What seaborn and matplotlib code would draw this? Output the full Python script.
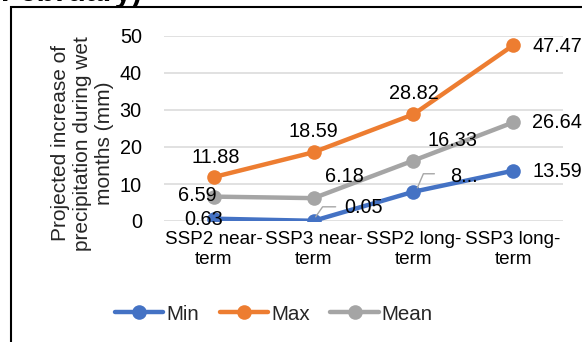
import matplotlib
matplotlib.use("Agg")
import matplotlib.pyplot as plt
from matplotlib.patches import Rectangle
from matplotlib.lines import Line2D
import seaborn as sns
import pandas as pd

# Scenario categories along the x axis
categories = ["SSP2 near-\nterm", "SSP3 near-\nterm", "SSP2 long-\nterm", "SSP3 long-\nterm"]

# Projected increase of precipitation (mm) per scenario
min_values = [0.63, 0.05, 7.9, 13.59]
max_values = [11.88, 18.59, 28.82, 47.47]
mean_values = [6.59, 6.18, 16.33, 26.64]

series_names = ["Min", "Max", "Mean"]
series_colors = ["#4472C4", "#ED7D31", "#A5A5A5"]
y_ticks = [0, 10, 20, 30, 40, 50]

FONT = "Liberation Sans"
FS = 14.3

sns.set_theme(style="white")
plt.rcParams["font.family"] = [FONT, "DejaVu Sans"]

W, H = 582, 342
fig = plt.figure(figsize=(W / 100, H / 100), dpi=100)
ax = fig.add_axes([164 / W, (H - 221) / H, (563 - 164) / W, (221 - 36) / H])

frames = []
for name, vals in zip(series_names, [min_values, max_values, mean_values]):
    frames.append(pd.DataFrame({"x": range(len(categories)), "value": vals, "series": name}))
df = pd.concat(frames, ignore_index=True)

sns.lineplot(
    data=df, x="x", y="value", hue="series", hue_order=series_names,
    palette=series_colors, marker="o", markersize=10.5, markeredgewidth=0,
    linewidth=3.2, sort=False, legend=False, ax=ax, zorder=3,
)

ax.set_xlim(-0.5, len(categories) - 0.5)
ax.set_ylim(0, 50)
ax.set_yticks(y_ticks)
ax.set_xticks(range(len(categories)))
ax.set_xticklabels(categories, fontsize=13.6, linespacing=1.25)
ax.set_yticklabels([str(t) for t in y_ticks], fontsize=FS)
ax.tick_params(axis="both", length=0, colors="black")
ax.tick_params(axis="y", pad=16)
ax.tick_params(axis="x", pad=7)
ax.grid(axis="y", color="#D9D9D9", linewidth=1.1)
ax.grid(axis="x", visible=False)
for sp in ax.spines.values():
    sp.set_visible(False)
ax.set_xlabel("")
ax.set_ylabel("Projected increase of\nprecipitation during wet\nmonths (mm)",
              fontsize=15, linespacing=1.2)
ax.yaxis.set_label_coords(-50 / (563 - 164), 0.42)

# Data labels: (series values, index, text, dx, dy, ha) offsets in pixels
labels = [
    (max_values, 0, "11.88", 2, 20, "center"),
    (max_values, 1, "18.59", 0, 21, "center"),
    (max_values, 2, "28.82", 0, 21, "center"),
    (max_values, 3, "47.47", 19, -1, "left"),
    (mean_values, 0, "6.59", 3, 1, "right"),
    (mean_values, 1, "6.18", 11, 22, "left"),
    (mean_values, 2, "16.33", 14, 20, "left"),
    (mean_values, 3, "26.64", 19, 0, "left"),
    (min_values, 0, "0.63", 9, -1, "right"),
    (min_values, 1, "0.05", 31, 13, "left"),
    (min_values, 2, "8...", 37, 15, "left"),
    (min_values, 3, "13.59", 19, -1, "left"),
]
for vals, i, txt, dx, dy, ha in labels:
    ax.annotate(txt, (i, vals[i]), xytext=(dx, dy), textcoords="offset pixels",
                ha=ha, va="center", fontsize=FS, color="black", zorder=4)

fig.canvas.draw()

# Leader lines for displaced labels (pixel offsets from the point)
leaders = [
    (min_values, 1, [(2, 4), (9, 14), (22, 14)]),
    (min_values, 2, [(4, 4), (10, 18), (21, 18)]),
]
for vals, i, offs in leaders:
    px, py = ax.transData.transform((i, vals[i]))
    xs = [(px + ox) / W for ox, oy in offs]
    ys = [(py + oy) / H for ox, oy in offs]
    fig.add_artist(Line2D(xs, ys, transform=fig.transFigure, color="#A6A6A6",
                          linewidth=1.0, zorder=2))

# Legend
handles = [Line2D([0], [0], color=c, linewidth=3.2, marker="o", markersize=10.5,
                  markeredgewidth=0) for c in series_colors]
fig.legend(handles, series_names, loc="center", bbox_to_anchor=(274 / W, (H - 314) / H),
           ncol=3, frameon=False, fontsize=FS + 0.5, handlelength=2.35, handletextpad=0.15,
           columnspacing=1.0, borderaxespad=0)

# Outer chart frame
fig.add_artist(Rectangle((11 / W, -0.2), 1.5, (H - 7) / H + 0.2, transform=fig.transFigure,
                         fill=False, edgecolor="black", linewidth=1.5, clip_on=False))

# Title
fig.text(1 / W, (H - 0.5) / H, "February)", ha="left", va="baseline",
         fontsize=22, fontweight="bold", color="black")

fig.savefig("out.png", dpi=100)
